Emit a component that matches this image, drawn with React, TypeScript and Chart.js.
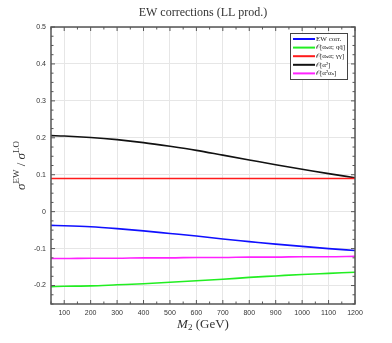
import React, { useEffect, useRef } from "react";
import { Chart, registerables } from "chart.js";
Chart.register(...registerables);

const masses = [50, 100, 200, 300, 400, 500, 600, 700, 800, 900, 1000, 1100, 1200];
const ewCorr = [-0.037, -0.038, -0.041, -0.046, -0.052, -0.059, -0.066, -0.074, -0.081, -0.088, -0.094, -0.1, -0.105];
const qqbar = [-0.203, -0.202, -0.201, -0.198, -0.195, -0.191, -0.187, -0.183, -0.178, -0.174, -0.17, -0.167, -0.164];
const gamgam = [0.09, 0.09, 0.09, 0.09, 0.09, 0.09, 0.09, 0.09, 0.09, 0.09, 0.09, 0.09, 0.09];
const alpha2 = [0.206, 0.205, 0.201, 0.195, 0.187, 0.177, 0.166, 0.153, 0.14, 0.127, 0.115, 0.103, 0.092];
const alpha2s = [-0.127, -0.127, -0.126, -0.126, -0.125, -0.125, -0.124, -0.124, -0.123, -0.123, -0.122, -0.122, -0.121];
const seriesLabels = ["EW corr.", "𝒪[αₛα; qq̄]", "𝒪[αₛα; γγ]", "𝒪[α²]", "𝒪[α²αₛ]"];
const seriesColors = ["#1010ff", "#22ee22", "#ff1a1a", "#111111", "#ff22ff"];
const xTicks = [100, 200, 300, 400, 500, 600, 700, 800, 900, 1000, 1100, 1200];
const yTicks = [-0.2, -0.1, 0, 0.1, 0.2, 0.3, 0.4, 0.5];

const SERIF = "'Liberation Serif', 'DejaVu Serif', serif";

export default function App() {
  const ref = useRef<HTMLCanvasElement>(null);
  useEffect(() => {
    const series = [ewCorr, qqbar, gamgam, alpha2, alpha2s];
    const deco = {
      id: "deco",
      afterDraw(chart: any) {
        const ctx = chart.ctx;
        const { left, right, top, bottom } = chart.chartArea;
        const xs = chart.scales.x;
        const ys = chart.scales.y;
        ctx.save();
        ctx.strokeStyle = "#555";
        ctx.lineWidth = 1.5;
        ctx.strokeRect(left, top, right - left, bottom - top);
        ctx.lineWidth = 1;
        for (let v = 50; v <= 1200; v += 50) {
          const px = xs.getPixelForValue(v);
          const len = v % 100 === 0 ? 4 : 2.5;
          ctx.beginPath();
          ctx.moveTo(px, bottom); ctx.lineTo(px, bottom - len);
          ctx.moveTo(px, top); ctx.lineTo(px, top + len);
          ctx.stroke();
        }
        for (let i = -10; i <= 20; i++) {
          const v = i * 0.025;
          const py = ys.getPixelForValue(v);
          const len = i % 4 === 0 ? 4 : 2.5;
          ctx.beginPath();
          ctx.moveTo(left, py); ctx.lineTo(left + len, py);
          ctx.moveTo(right, py); ctx.lineTo(right - len, py);
          ctx.stroke();
        }
        // title
        ctx.fillStyle = "#333";
        ctx.font = `12px ${SERIF}`;
        ctx.textAlign = "center";
        ctx.textBaseline = "middle";
        ctx.fillText("EW corrections (LL prod.)", (left + right) / 2, 13);
        // x label
        const cx = (left + right) / 2;
        ctx.textAlign = "left";
        const fM = `italic 13px ${SERIF}`;
        const fS = `9px ${SERIF}`;
        const fR = `13px ${SERIF}`;
        ctx.font = fM; const wM = ctx.measureText("M").width;
        ctx.font = fS; const w2 = ctx.measureText("2").width;
        ctx.font = fR; const wR = ctx.measureText(" (GeV)").width;
        let sx = cx - (wM + w2 + wR) / 2;
        const ly = 325;
        ctx.font = fM; ctx.fillText("M", sx, ly); sx += wM;
        ctx.font = fS; ctx.fillText("2", sx, ly + 3); sx += w2;
        ctx.font = fR; ctx.fillText(" (GeV)", sx, ly);
        // y label
        ctx.translate(22, (top + bottom) / 2);
        ctx.rotate(-Math.PI / 2);
        const parts: [string, string, number][] = [
          ["σ", `italic 13px ${SERIF}`, 0],
          ["EW", `9px ${SERIF}`, -5],
          [" / ", `13px ${SERIF}`, 0],
          ["σ", `italic 13px ${SERIF}`, 0],
          ["LO", `9px ${SERIF}`, -5],
        ];
        let tw = 0;
        for (const p of parts) { ctx.font = p[1]; tw += ctx.measureText(p[0]).width; }
        let px0 = -tw / 2;
        for (const p of parts) {
          ctx.font = p[1];
          ctx.fillText(p[0], px0, p[2]);
          px0 += ctx.measureText(p[0]).width;
        }
        ctx.restore();
        // legend
        ctx.save();
        const lx = 290, lyy = 33, lw = 57, lh = 46;
        ctx.fillStyle = "#fff";
        ctx.fillRect(lx, lyy, lw, lh);
        ctx.strokeStyle = "#444";
        ctx.lineWidth = 1;
        ctx.strokeRect(lx + 0.5, lyy + 0.5, lw, lh);
        ctx.font = `7px ${SERIF}`;
        ctx.textBaseline = "middle";
        ctx.textAlign = "left";
        for (let i = 0; i < seriesLabels.length; i++) {
          const yy = lyy + 6 + i * 8.6;
          ctx.strokeStyle = seriesColors[i];
          ctx.lineWidth = 2;
          ctx.beginPath();
          ctx.moveTo(lx + 3, yy); ctx.lineTo(lx + 25, yy);
          ctx.stroke();
          ctx.fillStyle = "#222";
          ctx.fillText(seriesLabels[i], lx + 26, yy);
        }
        ctx.restore();
      },
    };
    const chart = new Chart(ref.current!, {
      type: "line",
      data: {
        datasets: series.map((s, i) => ({
          label: seriesLabels[i],
          data: s.map((v, j) => ({ x: masses[j], y: v })),
          borderColor: seriesColors[i],
          borderWidth: 1.6,
          pointRadius: 0,
          cubicInterpolationMode: "monotone" as const,
        })),
      },
      options: {
        responsive: false,
        animation: false,
        layout: { padding: { left: 0, right: 37, top: 27, bottom: 0 } },
        plugins: { legend: { display: false }, title: { display: false }, tooltip: { enabled: false } },
        scales: {
          x: {
            type: "linear",
            min: 50,
            max: 1200,
            afterBuildTicks: (s: any) => { s.ticks = xTicks.map((v) => ({ value: v })); },
            afterFit: (s: any) => { s.height = 39; },
            grid: { color: "#e6e6e6", drawTicks: false },
            border: { display: false },
            ticks: { font: { size: 7, family: "'Liberation Sans', sans-serif" }, color: "#333", padding: 5, maxRotation: 0, autoSkip: false, callback: (v: any) => String(v) },
          },
          y: {
            type: "linear",
            min: -0.25,
            max: 0.5,
            afterBuildTicks: (s: any) => { s.ticks = yTicks.map((v) => ({ value: v })); },
            afterFit: (s: any) => { s.width = 51; },
            grid: { color: "#e6e6e6", drawTicks: false },
            border: { display: false },
            ticks: { font: { size: 7, family: "'Liberation Sans', sans-serif" }, color: "#333", padding: 5, callback: (v: any) => (Math.abs(v) < 1e-9 ? "0" : String(Math.round(v * 10) / 10)) },
          },
        },
      },
      plugins: [deco],
    });
    return () => chart.destroy();
  }, []);
  return (
    <div style={{ position: "fixed", left: 0, top: 0, width: 392, height: 343, background: "#fff" }}>
      <canvas ref={ref} width={392} height={343} style={{ width: 392, height: 343 }} />
    </div>
  );
}
